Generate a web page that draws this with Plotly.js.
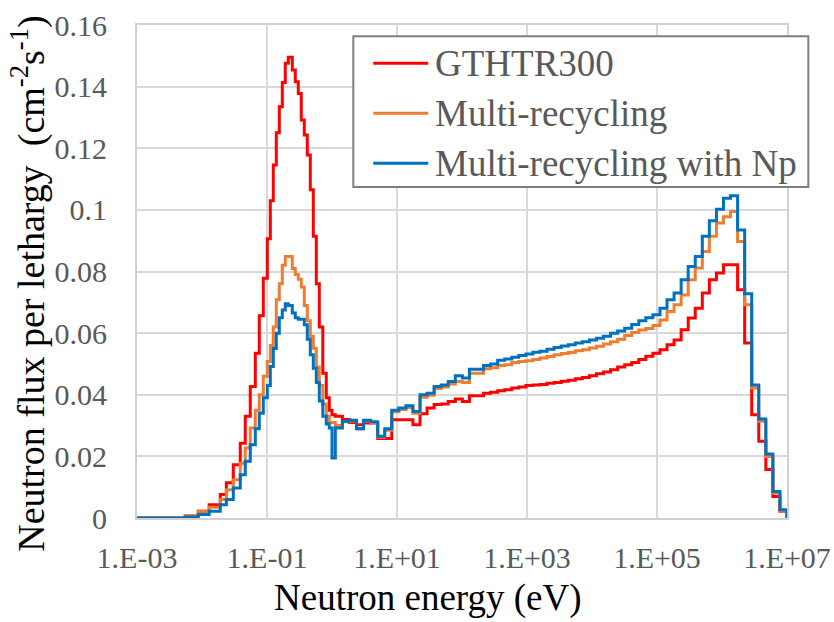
<!DOCTYPE html>
<html>
<head>
<meta charset="utf-8">
<script src="https://cdn.plot.ly/plotly-3.0.1.min.js"></script>
<style>
  html, body { margin: 0; padding: 0; background: #ffffff; }
  #chart { width: 834px; height: 622px; }
  #chart svg text { font-family: 'Liberation Serif', serif !important; }
</style>
</head>
<body>
<div id="chart"></div>
<script>
// Energy group boundaries (eV), ascending: fine thermal groups below 1.125 eV,
// 0.25-lethargy groups from 1.125 eV up to 10 MeV.
const energyEdges = [
  0.001, 0.00553, 0.00877, 0.0129, 0.0191, 0.0237, 0.0303, 0.0388, 0.0463, 0.0553,
  0.0661, 0.0761, 0.0877, 0.1011, 0.1125, 0.125, 0.139, 0.1546, 0.1719, 0.1912,
  0.2127, 0.245, 0.2723, 0.3031, 0.3371, 0.3748, 0.4169, 0.4636, 0.5157, 0.5735,
  0.6378, 0.7222, 0.8166, 0.9078, 1.0,
  1.1254, 1.445, 1.8554, 2.3824, 3.059, 3.9279, 5.0435, 6.476, 8.3153, 10.677,
  13.71, 17.603, 22.603, 29.023, 37.267, 47.851, 61.442, 78.893, 101.3, 130.07,
  167.02, 214.45, 275.36, 353.58, 454.0, 582.95, 748.52, 961.12, 1234.1, 1584.6,
  2034.7, 2612.6, 3354.6, 4307.4, 5530.8, 7101.7, 9118.8, 11709, 15034, 19305,
  24788, 31828, 40868, 52475, 67379, 86517, 111090, 142640, 183160, 235180,
  301970, 387740, 497870, 639280, 820850, 1054000, 1353400, 1737700, 2231300, 2865000,
  3678800, 4723700, 6065300, 7788000, 10000000
];

// Neutron flux per lethargy in each group (one value per group, low to high energy)
const fluxGTHTR300 = [
  0, 0.0008, 0.0022, 0.0043, 0.0076, 0.0114, 0.0173, 0.0243, 0.0330, 0.0427,
  0.0535, 0.0656, 0.0778, 0.0906, 0.1030, 0.1146, 0.1250, 0.1335, 0.1413, 0.1476,
  0.1495, 0.1454, 0.1416, 0.1378, 0.1292, 0.1243, 0.1178, 0.1065, 0.0914, 0.0760,
  0.0620, 0.0470, 0.0390, 0.0350,
  0.0335,
  0.0330, 0.0320, 0.0310, 0.0303, 0.0308, 0.0308, 0.0258, 0.0258, 0.0319, 0.0319,
  0.0319, 0.0303, 0.0338, 0.0357, 0.0368, 0.0370, 0.0378, 0.0386, 0.0378, 0.0397,
  0.0397, 0.0405, 0.0408, 0.0413, 0.0416, 0.0422, 0.0425, 0.0430, 0.0432, 0.0433,
  0.0437, 0.0440, 0.0444, 0.0447, 0.0452, 0.0456, 0.0462, 0.0468, 0.0474, 0.0481,
  0.0490, 0.0497, 0.0505, 0.0514, 0.0525, 0.0535, 0.0546, 0.0562, 0.0578, 0.0611,
  0.0649, 0.0681, 0.0730, 0.0773, 0.0795, 0.0822, 0.0822, 0.0741, 0.0568, 0.0335,
  0.0249, 0.0157, 0.0070, 0.0022
];

const fluxMultiRecycling = [
  0, 0.0008, 0.0022, 0.0035, 0.0060, 0.0092, 0.0124, 0.0178, 0.0227, 0.0292,
  0.0350, 0.0400, 0.0460, 0.0508, 0.0560, 0.0620, 0.0708, 0.0760, 0.0820, 0.0849,
  0.0849, 0.0810, 0.0790, 0.0775, 0.0750, 0.0690, 0.0640, 0.0590, 0.0551, 0.0490,
  0.0430, 0.0370, 0.0330, 0.0310,
  0.0310,
  0.0300, 0.0312, 0.0315, 0.0290, 0.0315, 0.0310, 0.0262, 0.0285, 0.0345, 0.0352,
  0.0358, 0.0340, 0.0392, 0.0398, 0.0420, 0.0425, 0.0435, 0.0443, 0.0440, 0.0470,
  0.0470, 0.0484, 0.0488, 0.0495, 0.0497, 0.0505, 0.0508, 0.0510, 0.0514, 0.0519,
  0.0524, 0.0530, 0.0534, 0.0537, 0.0543, 0.0546, 0.0552, 0.0557, 0.0565, 0.0572,
  0.0580, 0.0592, 0.0602, 0.0610, 0.0615, 0.0625, 0.0643, 0.0670, 0.0692, 0.0724,
  0.0773, 0.0811, 0.0865, 0.0914, 0.0957, 0.0978, 0.0995, 0.0897, 0.0692, 0.0422,
  0.0314, 0.0200, 0.0081, 0.0022
];

const fluxMultiRecyclingNp = [
  0, 0.0003, 0.0011, 0.0022, 0.0043, 0.0060, 0.0097, 0.0140, 0.0184, 0.0238,
  0.0290, 0.0340, 0.0390, 0.0430, 0.0492, 0.0550, 0.0600, 0.0650, 0.0675, 0.0695,
  0.0690, 0.0665, 0.0650, 0.0645, 0.0645, 0.0627, 0.0580, 0.0530, 0.0486, 0.0440,
  0.0380, 0.0330, 0.0305, 0.0292,
  0.0195,
  0.0292, 0.0314, 0.0317, 0.0290, 0.0317, 0.0312, 0.0265, 0.0290, 0.0350, 0.0357,
  0.0364, 0.0346, 0.0400, 0.0405, 0.0427, 0.0432, 0.0443, 0.0462, 0.0454, 0.0483,
  0.0483, 0.0495, 0.0500, 0.0512, 0.0516, 0.0522, 0.0527, 0.0532, 0.0538, 0.0541,
  0.0548, 0.0553, 0.0558, 0.0562, 0.0568, 0.0572, 0.0578, 0.0583, 0.0590, 0.0600,
  0.0607, 0.0616, 0.0628, 0.0640, 0.0650, 0.0660, 0.0681, 0.0708, 0.0730, 0.0773,
  0.0816, 0.0849, 0.0914, 0.0965, 0.1002, 0.1038, 0.1046, 0.0935, 0.0728, 0.0432,
  0.0321, 0.0208, 0.0086, 0.0027
];

const seriesNames = ['GTHTR300', 'Multi-recycling', 'Multi-recycling with Np'];
const seriesColors = ['#ff0000', '#ed7d31', '#0070c0'];

const xTickValues = [1e-3, 1e-1, 1e1, 1e3, 1e5, 1e7];
const xTickLabels = ['1.E-03', '1.E-01', '1.E+01', '1.E+03', '1.E+05', '1.E+07'];
const yTickValues = [0, 0.02, 0.04, 0.06, 0.08, 0.1, 0.12, 0.14, 0.16];
const yTickLabels = ['0', '0.02', '0.04', '0.06', '0.08', '0.1', '0.12', '0.14', '0.16'];

const serif = 'Liberation Serif';

// Histogram-style step line: each group value held across its energy band,
// closing back to zero at the upper boundary.
function stepTrace(values, name, color) {
  return {
    type: 'scatter',
    mode: 'lines',
    name: name,
    x: energyEdges,
    y: values.concat([0]),
    line: { shape: 'hv', color: color, width: 3, simplify: false },
    hoverinfo: 'x+y+name'
  };
}

const allSeries = [fluxGTHTR300, fluxMultiRecycling, fluxMultiRecyclingNp];
const traces = allSeries.map((vals, i) => stepTrace(vals, seriesNames[i], seriesColors[i]));

// Boxed legend in the upper right of the plot area
const legendBox = { x0: 0.3328, x1: 1.0328, y0: 0.6712, y1: 0.9771 };
const legendRows = [0.9224, 0.8211, 0.7198];
const legendLineX = [0.3635, 0.4481];
const legendTextX = 0.4558;

const shapes = [{
  type: 'rect', xref: 'paper', yref: 'paper',
  x0: legendBox.x0, x1: legendBox.x1, y0: legendBox.y0, y1: legendBox.y1,
  line: { color: '#7f7f7f', width: 2 }, fillcolor: '#ffffff', layer: 'above'
}];
const annotations = [];
seriesNames.forEach((name, i) => {
  shapes.push({
    type: 'line', xref: 'paper', yref: 'paper',
    x0: legendLineX[0], x1: legendLineX[1], y0: legendRows[i], y1: legendRows[i],
    line: { color: seriesColors[i], width: 3 }, layer: 'above'
  });
  annotations.push({
    xref: 'paper', yref: 'paper', x: legendTextX, y: legendRows[i],
    xanchor: 'left', yanchor: 'middle', showarrow: false,
    text: name, font: { family: serif, size: 37, color: '#595959' }
  });
});

// Axis titles
annotations.push({
  xref: 'paper', yref: 'paper', x: 0.448, y: -0.162,
  xanchor: 'center', yanchor: 'middle', showarrow: false,
  text: 'Neutron energy (eV)', font: { family: serif, size: 37, color: '#000000' }
});
annotations.push({
  xref: 'paper', yref: 'paper', x: -0.167, y: 0.476,
  xanchor: 'center', yanchor: 'middle', showarrow: false, textangle: -90,
  text: 'Neutron flux per lethargy\u00a0 (cm<sup>-2</sup>s<sup>-1</sup>)',
  font: { family: serif, size: 38, color: '#000000' }
});

const layout = {
  width: 834, height: 622,
  margin: { l: 137, r: 47, t: 25, b: 104, pad: 0 },
  paper_bgcolor: '#ffffff', plot_bgcolor: '#ffffff',
  showlegend: false,
  font: { family: serif, color: '#595959' },
  xaxis: {
    type: 'log', range: [-3, 7], autorange: false,
    tickmode: 'array', tickvals: xTickValues, ticktext: xTickLabels,
    ticks: 'outside', ticklen: 12, tickcolor: 'rgba(0,0,0,0)',
    tickfont: { family: serif, size: 30, color: '#595959' },
    showgrid: true, gridcolor: '#d9d9d9', gridwidth: 2,
    showline: true, mirror: true, linecolor: '#d0d0d0', linewidth: 2,
    zeroline: false, automargin: false
  },
  yaxis: {
    range: [0, 0.16], autorange: false,
    tickmode: 'array', tickvals: yTickValues, ticktext: yTickLabels,
    ticks: 'outside', ticklen: 22, tickcolor: 'rgba(0,0,0,0)',
    tickfont: { family: serif, size: 30, color: '#595959' },
    showgrid: true, gridcolor: '#d9d9d9', gridwidth: 2,
    showline: true, mirror: true, linecolor: '#d0d0d0', linewidth: 2,
    zeroline: false, automargin: false
  },
  shapes: shapes,
  annotations: annotations
};

Plotly.newPlot('chart', traces, layout, { staticPlot: true, displayModeBar: false });
</script>
</body>
</html>
